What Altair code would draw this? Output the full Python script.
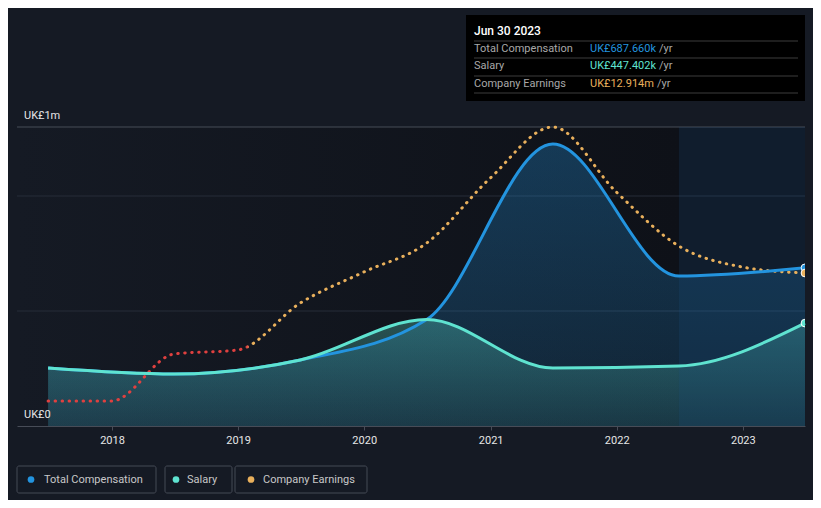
import altair as alt
import pandas as pd

# ---------------- data ----------------
comp_dates = ["2017-06-30", "2018-06-30", "2019-06-30", "2020-06-30",
              "2021-06-30", "2022-06-30", "2023-06-30"]
total_comp = [252000, 226000, 287000, 463000, 1226000, 652000, 687660]
salary = [252000, 226000, 287000, 463000, 252000, 261000, 447402]

earn_dates = ["2017-06-30", "2017-12-31", "2018-06-30", "2018-12-31",
              "2019-06-30", "2019-12-31", "2020-06-30", "2020-12-31",
              "2021-06-30", "2021-12-31", "2022-06-30", "2022-12-31",
              "2023-06-30"]
earnings_m = [2.11, 2.11, 6.08, 6.42, 10.38, 13.0, 15.45, 20.93,
              25.24, 19.75, 15.19, 13.42, 12.914]

year_ticks = [2018, 2019, 2020, 2021, 2022, 2023]
grid_values = [500000, 1000000]
y_label_values = [0, 1300000]
y_label_texts = ["UK£0", "UK£1m"]
highlight_start = ["2022-06-30"]
highlight_end = ["2023-06-30"]

tooltip_title = "Jun 30 2023"
tooltip_labels = ["Total Compensation", "Salary", "Company Earnings"]
tooltip_values = ["UK£687.660k", "UK£447.402k", "UK£12.914m"]
legend_labels = ["Total Compensation", "Salary", "Company Earnings"]

# ---------------- styles ----------------
BG = "#151a24"
BLUE = "#2394df"
TEAL = "#5fe3d0"
ORANGE = "#e9b05c"
RED = "#e0403f"
FONT = "Roboto"
W, H = 788, 299

comp_df = pd.DataFrame({"date": pd.to_datetime(comp_dates),
                        "total": total_comp, "salary": salary})
earn_df = pd.DataFrame({"date": pd.to_datetime(earn_dates), "earn": earnings_m})
last_df = comp_df.tail(1)
last_earn = earn_df.tail(1)
hl_df = pd.DataFrame({"date": pd.to_datetime(highlight_start),
                      "end": pd.to_datetime(highlight_end)})
grid_df = pd.DataFrame({"v": grid_values})
ylab_df = pd.DataFrame({"v": y_label_values, "label": y_label_texts})
one = pd.DataFrame({"a": [0]})

x_scale = alt.Scale(domain=[alt.DateTime(year=2017, month=4, date=1),
                            alt.DateTime(year=2023, month=6, date=30)])
y_comp = alt.Scale(domain=[0, 1300000], nice=False, zero=True)
y_earn = alt.Scale(domain=[0, 25.24], nice=False, zero=True)

x_axis = alt.Axis(values=[alt.DateTime(year=y, month=1, date=1) for y in year_ticks],
                  format="%Y", labelColor="#e6e6e6", labelFontSize=11, labelFont=FONT,
                  tickColor="#474c57", tickSize=4, domainColor="#474c57",
                  labelPadding=4, grid=False, title=None, labelFlush=False)
X = alt.X("date:T", scale=x_scale, axis=x_axis)

layers = []

# plot background gradient
bg_grad = alt.Gradient(gradient="linear", x1=0, x2=1, y1=0, y2=0,
                       stops=[alt.GradientStop(color=BG, offset=0),
                              alt.GradientStop(color="#0e1118", offset=0.84),
                              alt.GradientStop(color="#0e1118", offset=1)])
layers.append(alt.Chart(one).mark_rect(color=bg_grad).encode(
    x=alt.value(0), x2=alt.value(W), y=alt.value(0), y2=alt.value(H)))

# gridlines
layers.append(alt.Chart(grid_df).mark_rule(color="#272d38", strokeWidth=1).encode(
    y=alt.Y("v:Q", scale=y_comp, axis=None), x=alt.value(0), x2=alt.value(W)))
layers.append(alt.Chart(one).mark_rule(color="#474c57", strokeWidth=1).encode(
    y=alt.value(0), x=alt.value(0), x2=alt.value(W)))

# areas
blue_grad = alt.Gradient(gradient="linear", x1=0, x2=0, y1=0, y2=1,
                         stops=[alt.GradientStop(color="rgba(35,148,223,0.30)", offset=0),
                                alt.GradientStop(color="rgba(35,148,223,0.14)", offset=1)])
teal_grad = alt.Gradient(gradient="linear", x1=0, x2=0, y1=0, y2=1,
                         stops=[alt.GradientStop(color="rgba(94,228,208,0.30)", offset=0),
                                alt.GradientStop(color="rgba(94,228,208,0.10)", offset=1)])
layers.append(alt.Chart(comp_df).mark_area(interpolate="monotone", color=blue_grad).encode(
    x=X, y=alt.Y("total:Q", scale=y_comp, axis=None)))
layers.append(alt.Chart(comp_df).mark_area(interpolate="monotone", color=teal_grad).encode(
    x=X, y=alt.Y("salary:Q", scale=y_comp, axis=None)))

# highlighted last year
layers.append(alt.Chart(hl_df).mark_rect(color="#1b4f80", opacity=0.2).encode(
    x=X, x2="end:T", y=alt.value(0), y2=alt.value(H)))

# earnings dotted line
earn_grad = alt.Gradient(gradient="linear", x1=0, x2=1, y1=0, y2=0,
                         stops=[alt.GradientStop(color=RED, offset=0),
                                alt.GradientStop(color=RED, offset=0.262),
                                alt.GradientStop(color=ORANGE, offset=0.268),
                                alt.GradientStop(color=ORANGE, offset=1)])
layers.append(alt.Chart(earn_df).mark_line(
    interpolate="monotone", stroke=earn_grad, strokeWidth=3,
    strokeDash=[0.5, 6.5], strokeCap="round").encode(
    x=X, y=alt.Y("earn:Q", scale=y_earn, axis=None)))

# lines
layers.append(alt.Chart(comp_df).mark_line(interpolate="monotone", color=BLUE, strokeWidth=3).encode(
    x=X, y=alt.Y("total:Q", scale=y_comp, axis=None)))
layers.append(alt.Chart(comp_df).mark_line(interpolate="monotone", color=TEAL, strokeWidth=3).encode(
    x=X, y=alt.Y("salary:Q", scale=y_comp, axis=None)))

# end points
layers.append(alt.Chart(last_df).mark_point(filled=True, size=60, color=BLUE, stroke="white",
                                            strokeWidth=1, opacity=1, clip=True).encode(
    x=X, y=alt.Y("total:Q", scale=y_comp, axis=None)))
layers.append(alt.Chart(last_df).mark_point(filled=True, size=60, color=TEAL, stroke="white",
                                            strokeWidth=1, opacity=1, clip=True).encode(
    x=X, y=alt.Y("salary:Q", scale=y_comp, axis=None)))
layers.append(alt.Chart(last_earn).mark_point(filled=True, size=60, color=ORANGE, stroke="white",
                                              strokeWidth=1, opacity=1, clip=True).encode(
    x=X, y=alt.Y("earn:Q", scale=y_earn, axis=None)))

# y labels
layers.append(alt.Chart(ylab_df).mark_text(align="left", baseline="alphabetic", dx=7, dy=-8,
                                           color="#e6e6e6", fontSize=11, font=FONT).encode(
    x=alt.value(0), y=alt.Y("v:Q", scale=y_comp, axis=None), text="label:N"))

# tooltip box
layers.append(alt.Chart(one).mark_rect(fill="#000000").encode(
    x=alt.value(449), x2=alt.value(788), y=alt.value(-112), y2=alt.value(-26)))
layers.append(alt.Chart(one).mark_text(text=tooltip_title, align="left", baseline="middle",
                                       color="#ffffff", fontSize=12, font=FONT, fontWeight=500).encode(
    x=alt.value(457), y=alt.value(-96)))
for yy in [-86, -69, -51, -34]:
    layers.append(alt.Chart(one).mark_rule(color="#3d3d3d", strokeWidth=1).encode(
        x=alt.value(457), x2=alt.value(781), y=alt.value(yy)))
row_colors = [BLUE, TEAL, ORANGE]
row_y = [-78, -61, -43]
yr_x = [642, 642, 640]
for lab, val, col, yy, xx in zip(tooltip_labels, tooltip_values, row_colors, row_y, yr_x):
    layers.append(alt.Chart(one).mark_text(text=lab, align="left", baseline="middle",
                                           color="#a8a8a8", fontSize=11, font=FONT).encode(
        x=alt.value(457), y=alt.value(yy)))
    layers.append(alt.Chart(one).mark_text(text=val, align="left", baseline="middle",
                                           color=col, fontSize=11, font=FONT).encode(
        x=alt.value(573), y=alt.value(yy)))
    layers.append(alt.Chart(one).mark_text(text="/yr", align="left", baseline="middle",
                                           color="#a8a8a8", fontSize=11, font=FONT).encode(
        x=alt.value(xx), y=alt.value(yy)))

# legend
box_x = [(0, 139), (148, 215), (218, 350)]
dot_x = [14, 159, 234]
txt_x = [27, 170, 246]
for lab, col, (bx0, bx1), dx_, tx in zip(legend_labels, row_colors, box_x, dot_x, txt_x):
    layers.append(alt.Chart(one).mark_rect(fill=BG, stroke="#454a55", strokeWidth=1,
                                           cornerRadius=2).encode(
        x=alt.value(bx0), x2=alt.value(bx1), y=alt.value(339), y2=alt.value(366)))
    layers.append(alt.Chart(one).mark_point(filled=True, size=45, color=col, opacity=1).encode(
        x=alt.value(dx_), y=alt.value(352.5)))
    layers.append(alt.Chart(one).mark_text(text=lab, align="left", baseline="middle",
                                           color="#c8c8c8", fontSize=11, font=FONT).encode(
        x=alt.value(tx), y=alt.value(352.5)))

chart = alt.layer(*layers).resolve_scale(y="independent").properties(
    width=W, height=H,
    padding={"left": 9, "top": 119, "right": 8, "bottom": 74},
    autosize="none",
    background=BG,
).configure_view(stroke=None)

chart.save("out.html", embed_options={"renderer": "svg", "actions": False})
